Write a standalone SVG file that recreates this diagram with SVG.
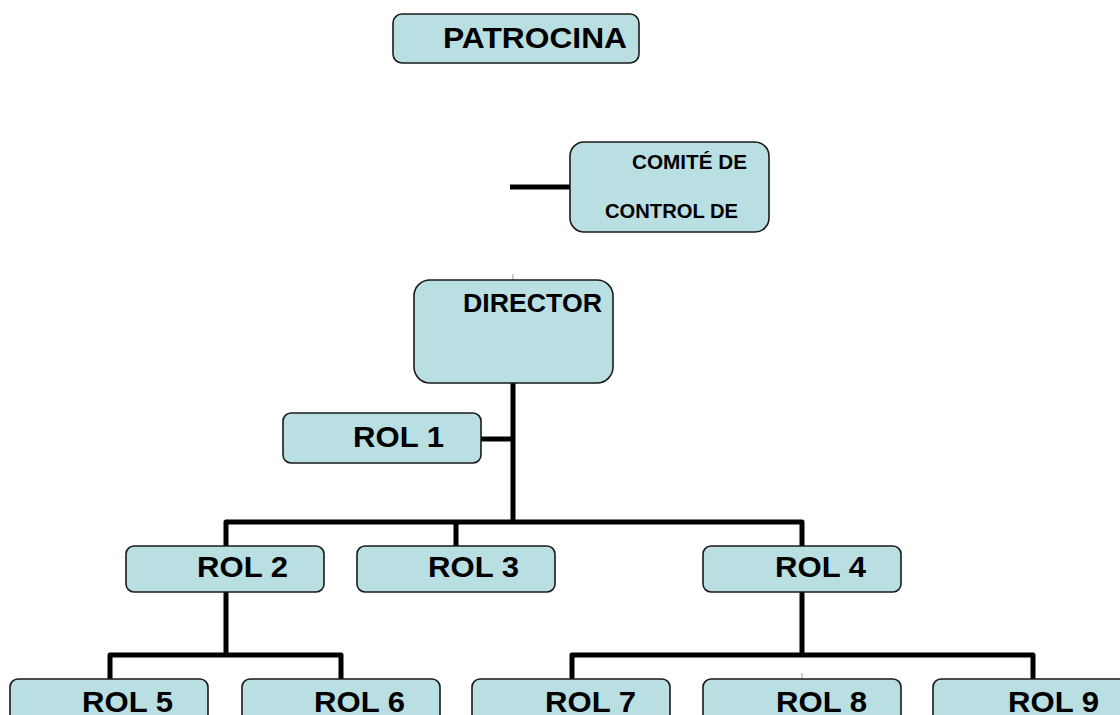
<svg xmlns="http://www.w3.org/2000/svg" width="1120" height="715" viewBox="0 0 1120 715">
<style>
.box{fill:#b9dfe2;stroke:#1a1a1a;stroke-width:1.6}
.t{font-family:"Liberation Sans",Arial,sans-serif;font-weight:bold;fill:#000}
.r{font-size:30px}
.ln{fill:none;stroke:#000;stroke-width:5;stroke-linejoin:round}
.tick{stroke:#999;stroke-width:1}
</style>
<rect width="1120" height="715" fill="#fff"/>
<g id="connectors">
<line class="ln" x1="510" y1="187" x2="570" y2="187"/>
<line class="ln" x1="513" y1="383" x2="513" y2="522"/>
<line class="ln" x1="481" y1="439" x2="513" y2="439"/>
<polyline class="ln" points="226,546 226,522 802,522 802,546"/>
<line class="ln" x1="456" y1="522" x2="456" y2="546"/>
<line class="ln" x1="226" y1="592" x2="226" y2="655"/>
<polyline class="ln" points="110,679 110,655 341,655 341,679"/>
<line class="ln" x1="802" y1="592" x2="802" y2="655"/>
<polyline class="ln" points="572,679 572,655 1033,655 1033,679"/>
<line class="tick" x1="513" y1="274" x2="513" y2="280"/>
<line class="tick" x1="802" y1="673" x2="802" y2="679"/>
</g>
<g id="patrocina">
<rect class="box" x="393" y="14" width="246" height="49" rx="9"/>
<text class="t" x="443" y="48" font-size="29" textLength="184" lengthAdjust="spacingAndGlyphs">PATROCINA</text>
</g>
<g id="comite">
<rect class="box" x="570" y="142" width="199" height="90" rx="14"/>
<text class="t" x="632" y="169" font-size="20" textLength="115" lengthAdjust="spacingAndGlyphs">COMITÉ DE</text>
<text class="t" x="605" y="218" font-size="20" textLength="133" lengthAdjust="spacingAndGlyphs">CONTROL DE</text>
</g>
<g id="director">
<rect class="box" x="414" y="280" width="199" height="103" rx="16"/>
<text class="t" x="463" y="312" font-size="26" textLength="139" lengthAdjust="spacingAndGlyphs">DIRECTOR</text>
</g>
<g id="rol1">
<rect class="box" x="283" y="413" width="198" height="50" rx="8"/>
<text class="t r" x="353" y="447" textLength="91" lengthAdjust="spacingAndGlyphs">ROL 1</text>
</g>
<g id="rol2">
<rect class="box" x="126" y="546" width="198" height="46" rx="8"/>
<text class="t r" x="197" y="577" textLength="91" lengthAdjust="spacingAndGlyphs">ROL 2</text>
</g>
<g id="rol3">
<rect class="box" x="357" y="546" width="198" height="46" rx="8"/>
<text class="t r" x="428" y="577" textLength="91" lengthAdjust="spacingAndGlyphs">ROL 3</text>
</g>
<g id="rol4">
<rect class="box" x="703" y="546" width="198" height="46" rx="8"/>
<text class="t r" x="775" y="577" textLength="91" lengthAdjust="spacingAndGlyphs">ROL 4</text>
</g>
<g id="rol5">
<rect class="box" x="10" y="679" width="198" height="50" rx="8"/>
<text class="t r" x="82" y="712" textLength="91" lengthAdjust="spacingAndGlyphs">ROL 5</text>
</g>
<g id="rol6">
<rect class="box" x="242" y="679" width="198" height="50" rx="8"/>
<text class="t r" x="314" y="712" textLength="91" lengthAdjust="spacingAndGlyphs">ROL 6</text>
</g>
<g id="rol7">
<rect class="box" x="472" y="679" width="198" height="50" rx="8"/>
<text class="t r" x="545" y="712" textLength="91" lengthAdjust="spacingAndGlyphs">ROL 7</text>
</g>
<g id="rol8">
<rect class="box" x="703" y="679" width="198" height="50" rx="8"/>
<text class="t r" x="776" y="712" textLength="91" lengthAdjust="spacingAndGlyphs">ROL 8</text>
</g>
<g id="rol9">
<rect class="box" x="933" y="679" width="198" height="50" rx="8"/>
<text class="t r" x="1008" y="712" textLength="91" lengthAdjust="spacingAndGlyphs">ROL 9</text>
</g>
</svg>
